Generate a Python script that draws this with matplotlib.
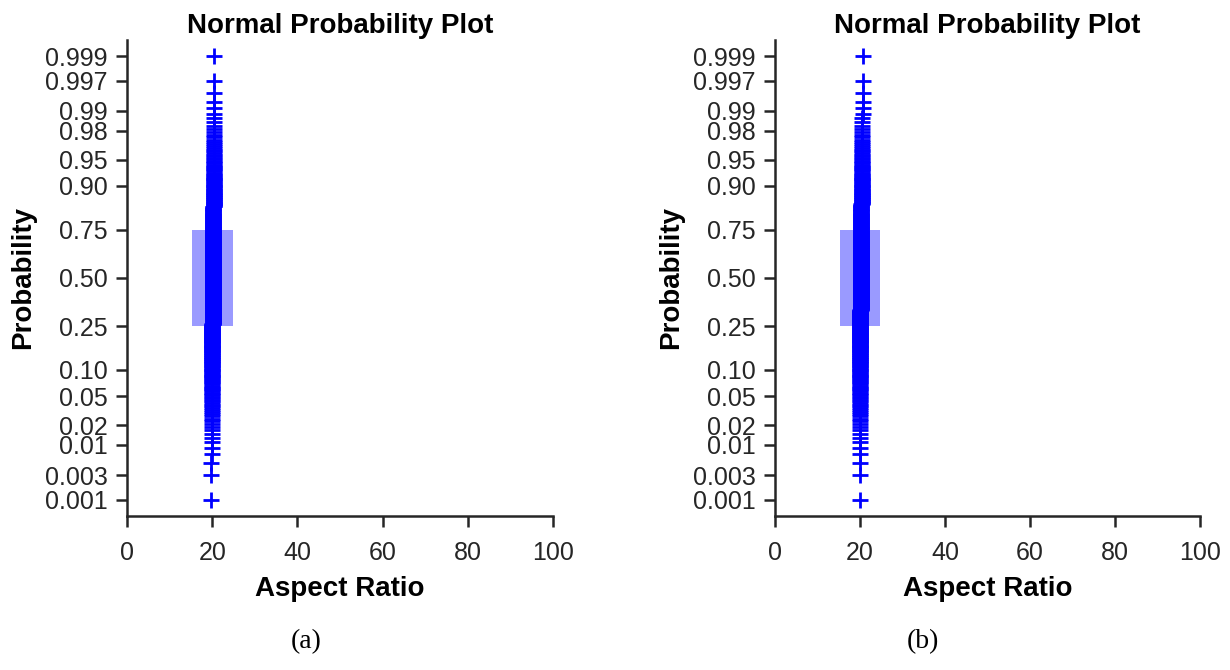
import numpy as np
import matplotlib
matplotlib.use("Agg")
import matplotlib.pyplot as plt
from matplotlib.patches import Rectangle
from statistics import NormalDist

plt.rcParams['font.family'] = ['Liberation Sans', 'DejaVu Sans']

# aspect ratio samples (n=500 each), read as value -> count
ar_vals_a = [19.8, 19.9, 20.0, 20.1, 20.2, 20.3, 20.4, 20.5]
ar_counts_a = [3, 17, 110, 170, 120, 55, 20, 5]
ar_vals_b = [19.9, 20.0, 20.1, 20.2, 20.3, 20.4, 20.5, 20.6]
ar_counts_b = [4, 30, 130, 160, 100, 50, 20, 6]

# interquartile box drawn by normplot
box_x = [15.3, 24.8]
box_p = [0.25, 0.75]

prob_ticks = [0.001, 0.003, 0.01, 0.02, 0.05, 0.10, 0.25, 0.50, 0.75,
              0.90, 0.95, 0.98, 0.99, 0.997, 0.999]
prob_labels = ['0.001', '0.003', '0.01', '0.02', '0.05', '0.10', '0.25', '0.50',
               '0.75', '0.90', '0.95', '0.98', '0.99', '0.997', '0.999']
x_ticks = [0, 20, 40, 60, 80, 100]

nd = NormalDist()
_ppf = np.vectorize(lambda p: nd.inv_cdf(min(max(p, 1e-12), 1 - 1e-12)),
                    otypes=[float])
_cdf = np.vectorize(nd.cdf, otypes=[float])


def fwd(p):
    return _ppf(np.asarray(p, dtype=float))


def inv(z):
    return _cdf(np.asarray(z, dtype=float))


ink = '#262626'


def normplot(ax, vals, counts):
    data = np.sort(np.repeat(vals, counts))
    n = len(data)
    pp = (np.arange(1, n + 1) - 0.5) / n
    ax.set_yscale('function', functions=(fwd, inv))
    ax.add_patch(Rectangle((box_x[0], box_p[0]), box_x[1] - box_x[0],
                           box_p[1] - box_p[0], facecolor='#9a9aff',
                           edgecolor='none', zorder=1))
    ax.plot(data, pp, '+', color='#0000ff', markersize=12, mew=2, zorder=2)
    ax.set_xlim(0, 100)
    ax.set_ylim(nd.cdf(-3.315), nd.cdf(3.315))
    ax.set_xticks(x_ticks)
    ax.set_yticks(prob_ticks)
    ax.set_yticklabels(prob_labels)
    ax.minorticks_off()
    for s in ['top', 'right']:
        ax.spines[s].set_visible(False)
    for s in ['left', 'bottom']:
        ax.spines[s].set_linewidth(1.8)
        ax.spines[s].set_color(ink)
    ax.tick_params(direction='out', length=8, width=1.8, colors=ink,
                   labelsize=18, labelcolor=ink)
    ax.tick_params(axis='x', pad=10)
    ax.tick_params(axis='y', pad=6)
    ax.set_title('Normal Probability Plot', fontsize=20, fontweight='bold',
                 color='black', pad=5)
    ax.set_xlabel('Aspect Ratio', fontsize=20, fontweight='bold', color='black',
                  labelpad=8)
    ax.set_ylabel('Probability', fontsize=20, fontweight='bold', color='black',
                  labelpad=6)


fig = plt.figure(figsize=(12.3, 6.7), dpi=100)
ax1 = fig.add_axes([0.1033, 0.2299, 0.3463, 0.7104])
ax2 = fig.add_axes([0.6301, 0.2299, 0.3455, 0.7104])
normplot(ax1, ar_vals_a, ar_counts_a)
normplot(ax2, ar_vals_b, ar_counts_b)

fig.text(0.249, 0.043, '(a)', fontsize=20, family='Liberation Serif', ha='center', va='center')
fig.text(0.750, 0.043, '(b)', fontsize=20, family='Liberation Serif', ha='center', va='center')

fig.savefig('out.png', dpi=100)
